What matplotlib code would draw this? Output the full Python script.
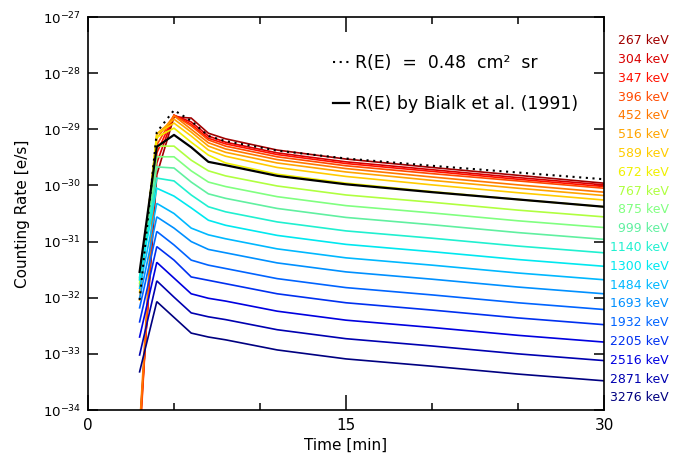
import numpy as np
import matplotlib
matplotlib.use("Agg")
import matplotlib.pyplot as plt
from matplotlib.ticker import FixedLocator, NullLocator, NullFormatter, LogFormatterMathtext

# ---- data (log10 of counting rate [e/s]) ----
times = [3, 4, 5, 6, 7, 8, 11, 15, 20, 25, 30]
energies = [267, 304, 347, 396, 452, 516, 589, 672, 767, 875,
            999, 1140, 1300, 1484, 1693, 1932, 2205, 2516, 2871, 3276]
ytick_exponents = [-34, -33, -32, -31, -30, -29, -28, -27]

r267 = [-34.3, -29.81, -28.78, -28.80, -29.07, -29.17, -29.37, -29.53, -29.68, -29.82, -29.96]
r304 = [-34.4, -29.60, -28.75, -28.87, -29.12, -29.23, -29.42, -29.58, -29.72, -29.86, -29.99]
r347 = [-34.5, -29.42, -28.75, -28.91, -29.16, -29.26, -29.45, -29.61, -29.75, -29.89, -30.02]
r396 = [-34.6, -29.28, -28.75, -28.94, -29.19, -29.30, -29.49, -29.65, -29.79, -29.92, -30.05]
r452 = [-34.3, -29.16, -28.76, -29.00, -29.24, -29.35, -29.54, -29.70, -29.85, -29.99, -30.12]
r516 = [-32.04, -29.08, -28.82, -29.05, -29.30, -29.41, -29.60, -29.76, -29.91, -30.05, -30.18]
r589 = [-31.90, -29.08, -28.89, -29.12, -29.37, -29.48, -29.68, -29.84, -29.99, -30.13, -30.26]
r672 = [-31.79, -29.14, -28.98, -29.23, -29.46, -29.60, -29.80, -29.96, -30.11, -30.25, -30.38]
r767 = [-31.74, -29.30, -29.30, -29.55, -29.74, -29.83, -30.01, -30.17, -30.30, -30.44, -30.56]
r875 = [-31.68, -29.49, -29.49, -29.74, -29.94, -30.02, -30.20, -30.36, -30.49, -30.63, -30.75]
r999 = [-31.65, -29.67, -29.69, -29.94, -30.15, -30.23, -30.41, -30.57, -30.70, -30.84, -30.96]
r1140 = [-31.63, -29.87, -29.92, -30.17, -30.38, -30.47, -30.65, -30.81, -30.94, -31.08, -31.20]
r1300 = [-31.68, -30.05, -30.19, -30.40, -30.62, -30.71, -30.89, -31.05, -31.18, -31.32, -31.44]
r1484 = [-31.83, -30.32, -30.50, -30.76, -30.88, -30.95, -31.13, -31.29, -31.42, -31.56, -31.68]
r1693 = [-32.01, -30.56, -30.76, -31.00, -31.14, -31.20, -31.38, -31.54, -31.67, -31.81, -31.93]
r1932 = [-32.18, -30.82, -31.06, -31.33, -31.42, -31.48, -31.66, -31.82, -31.95, -32.09, -32.21]
r2205 = [-32.43, -31.09, -31.33, -31.63, -31.69, -31.75, -31.93, -32.09, -32.22, -32.36, -32.48]
r2516 = [-32.70, -31.37, -31.65, -31.93, -32.01, -32.06, -32.24, -32.40, -32.53, -32.67, -32.79]
r2871 = [-33.02, -31.70, -31.99, -32.27, -32.34, -32.39, -32.57, -32.73, -32.86, -33.00, -33.12]
r3276 = [-33.32, -32.07, -32.35, -32.63, -32.70, -32.75, -32.93, -33.09, -33.22, -33.36, -33.48]

r_const = [-32.04, -29.05, -28.66, -28.85, -29.12, -29.21, -29.38, -29.52, -29.65, -29.77, -29.89]
r_bialk = [-31.54, -29.31, -29.10, -29.32, -29.58, -29.64, -29.83, -29.98, -30.12, -30.25, -30.38]

series = [r267, r304, r347, r396, r452, r516, r589, r672, r767, r875,
          r999, r1140, r1300, r1484, r1693, r1932, r2205, r2516, r2871, r3276]

colors = ['#a00000', '#d80000', '#ff1000', '#ff4a00', '#ff7800', '#ffa400',
          '#ffcc00', '#f0f000', '#b0ff40', '#80ff80', '#60f0a0', '#20f0d0',
          '#00e8f0', '#00b8ff', '#0090ff', '#0064ff', '#0030f0', '#0000e0',
          '#0000b0', '#000080']

# ---- figure ----
W, H = 673, 454
fig = plt.figure(figsize=(W / 100, H / 100), dpi=100)
ax = fig.add_axes([88 / W, 1 - 410 / H, (604 - 88) / W, (410 - 17) / H])

for vals, c in zip(series, colors):
    ax.plot(times, 10.0 ** np.array(vals), color=c, lw=1.2, solid_joinstyle='miter')

ax.plot(times, 10.0 ** np.array(r_bialk), color='black', lw=1.6,
        label='R(E) by Bialk et al. (1991)')
ax.plot(times, 10.0 ** np.array(r_const), color='black', lw=1.5, ls=(0, (1, 2.2)),
        label='R(E)  =  0.48  cm²  sr')

ax.set_yscale('log')
ax.set_xlim(0, 30)
ax.set_ylim(1e-34, 1e-27)

ax.xaxis.set_major_locator(FixedLocator([0, 15, 30]))
ax.xaxis.set_minor_locator(FixedLocator([5, 10, 20, 25]))
ax.yaxis.set_major_locator(FixedLocator([10.0 ** e for e in ytick_exponents]))
ax.yaxis.set_minor_locator(NullLocator())
ax.yaxis.set_minor_formatter(NullFormatter())
ax.yaxis.set_major_formatter(LogFormatterMathtext())

ax.tick_params(axis='x', which='major', direction='in', length=11, width=1.1,
               top=True, labelsize=11, pad=6)
ax.tick_params(axis='x', which='minor', direction='in', length=5, width=1.1, top=True)
ax.tick_params(axis='y', which='major', direction='in', length=7, width=1.1,
               right=True, labelsize=9.6, pad=5)
for s in ax.spines.values():
    s.set_linewidth(1.2)

ax.set_xlabel('Time [min]', fontsize=11, labelpad=3)
ax.set_ylabel('Counting Rate [e/s]', fontsize=11, labelpad=9)

handles, labels = ax.get_legend_handles_labels()
leg = ax.legend(handles[::-1], labels[::-1], loc='upper left',
                bbox_to_anchor=(333 / W, 1 - 54 / H), bbox_transform=fig.transFigure,
                frameon=False, fontsize=12.4, handlelength=0.9, handletextpad=0.4,
                labelspacing=1.35, borderpad=0, borderaxespad=0)

# right-hand energy labels (right-aligned)
for i, (e, c) in enumerate(zip(energies, colors)):
    ypx = 40.7 + i * 18.8
    fig.text(669 / W, 1 - ypx / H, f'{e} keV', color=c, fontsize=9,
             ha='right', va='center')

fig.savefig('out.png', dpi=100)
